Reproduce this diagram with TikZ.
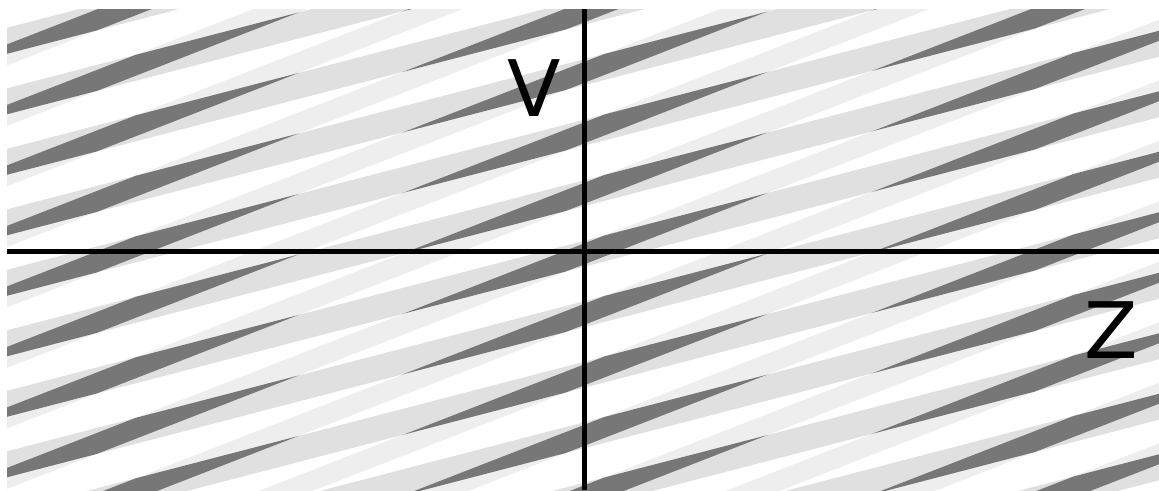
\documentclass[tikz,border=0pt]{standalone}
\usepackage{fontspec}
\setmainfont{DejaVu Sans}
\definecolor{stripA}{HTML}{E0E0E0}
\definecolor{stripB}{HTML}{EEEEEE}
\definecolor{stripD}{HTML}{777777}
\begin{document}
\begin{tikzpicture}[x=1pt,y=-1pt,
  axisline/.style={line width=5pt, black},
  lab/.style={inner sep=0pt, font=\fontsize{78}{80}\selectfont}]
\useasboundingbox (0,0) rectangle (1159,490);
\def\aS{-0.260}\def\bS{-0.389}\def\hA{26}\def\hB{21}\def\pp{60.5}\def\cA{150.6}\def\cB{168.1}
\begin{scope}
  \clip (7,9) rectangle (1159,490);
  \fill[stripA] \foreach \i in {-5,...,16} { (0,{\cA+\i*\pp}) -- (1159,{\cA+\aS*1159+\i*\pp}) -- (1159,{\cA+\aS*1159+\i*\pp+\hA}) -- (0,{\cA+\i*\pp+\hA}) -- cycle };
  \fill[stripB] \foreach \i in {-5,...,16} { (0,{\cB+\i*\pp}) -- (1159,{\cB+\bS*1159+\i*\pp}) -- (1159,{\cB+\bS*1159+\i*\pp+\hB}) -- (0,{\cB+\i*\pp+\hB}) -- cycle };
  \begin{scope}
    \clip \foreach \i in {-5,...,16} { (0,{\cA+\i*\pp}) -- (1159,{\cA+\aS*1159+\i*\pp}) -- (1159,{\cA+\aS*1159+\i*\pp+\hA}) -- (0,{\cA+\i*\pp+\hA}) -- cycle };
    \fill[stripD] \foreach \i in {-5,...,16} { (0,{\cB+\i*\pp}) -- (1159,{\cB+\bS*1159+\i*\pp}) -- (1159,{\cB+\bS*1159+\i*\pp+\hB}) -- (0,{\cB+\i*\pp+\hB}) -- cycle };
  \end{scope}
\end{scope}
\coordinate (xl) at (7,251);
\coordinate (xr) at (1159,251);
\coordinate (yt) at (584.5,9);
\coordinate (yb) at (584.5,490);
\draw[axisline] (xl) -- (xr);
\draw[axisline] (yt) -- (yb);
\node[lab] (V) at (534,88.5) {V};
\node[lab] (Z) at (1111.5,330) {Z};
\end{tikzpicture}
\end{document}
